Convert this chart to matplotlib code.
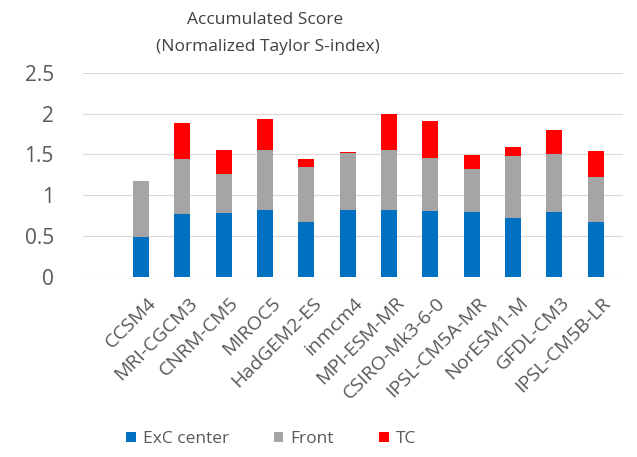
import matplotlib
matplotlib.use("Agg")
import matplotlib.pyplot as plt
import matplotlib.transforms as mtransforms
import numpy as np

models = ["CCSM4", "MRI-CGCM3", "CNRM-CM5", "MIROC5", "HadGEM2-ES", "inmcm4",
          "MPI-ESM-MR", "CSIRO-Mk3-6-0", "IPSL-CM5A-MR", "NorESM1-M", "GFDL-CM3",
          "IPSL-CM5B-LR"]
exc_center = [0.49, 0.77, 0.78, 0.82, 0.67, 0.82, 0.82, 0.81, 0.80, 0.72, 0.79, 0.67]
front = [0.69, 0.67, 0.48, 0.74, 0.67, 0.70, 0.73, 0.65, 0.52, 0.76, 0.71, 0.55]
tc = [0.00, 0.45, 0.30, 0.37, 0.11, 0.01, 0.45, 0.45, 0.17, 0.11, 0.30, 0.32]
yticks = [0, 0.5, 1, 1.5, 2, 2.5]
ytick_labels = ["0", "0.5", "1", "1.5", "2", "2.5"]

plt.rcParams['font.family'] = ['Open Sans', 'DejaVu Sans']

W, H = 637, 457
fig = plt.figure(figsize=(W / 100, H / 100), dpi=100)
ax = fig.add_axes([83 / W, 1 - 277 / H, (623 - 83) / W, (277 - 72.7) / H])

x = np.arange(len(models))
e = np.array(exc_center)
f = np.array(front)
t = np.array(tc)
bw = 0.39
ax.bar(x, e, bw, color="#0070C0", label="ExC center", zorder=3)
ax.bar(x, f, bw, bottom=e, color="#A5A5A5", label="Front", zorder=3)
ax.bar(x, t, bw, bottom=e + f, color="#FF0000", label="TC", zorder=3)

ax.set_ylim(0, 2.5)
ax.set_xlim(-1.40, 11.66)
ax.set_yticks(yticks)
ax.set_yticklabels(ytick_labels, fontsize=15, color="#595959")
ax.yaxis.grid(True, color="#D9D9D9", linewidth=0.8, zorder=0)
ax.tick_params(axis="y", length=0, pad=21)
ax.tick_params(axis="x", length=0, pad=12)
ax.set_xticks(x)
ax.set_xticklabels(models, rotation=45, ha="right", va="top",
                   rotation_mode="anchor", fontsize=14, color="#595959")
shift = mtransforms.ScaledTranslation(6 / 100, 0, fig.dpi_scale_trans)
for lbl in ax.get_xticklabels():
    lbl.set_transform(lbl.get_transform() + shift)
for s in ax.spines.values():
    s.set_visible(False)

fig.text(265 / W, 1 - 20 / H, "Accumulated Score", ha="center", va="center",
         fontsize=12.5, color="#404040")
fig.text(268 / W, 1 - 47 / H, "(Normalized Taylor S-index)", ha="center",
         va="center", fontsize=12.5, color="#404040")

fig.legend(loc="center", bbox_to_anchor=(271 / W, 1 - 439 / H), ncol=3,
           frameon=False, fontsize=12.5, handlelength=0.55, handleheight=0.55,
           handletextpad=0.4, columnspacing=2.6, labelcolor="#595959")

fig.savefig("out.png", dpi=100)
